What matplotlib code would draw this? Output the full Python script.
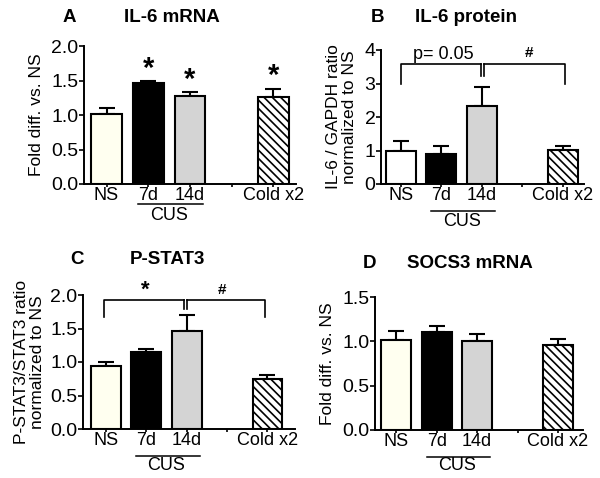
import matplotlib
matplotlib.use("Agg")
import matplotlib.pyplot as plt
from matplotlib.transforms import blended_transform_factory, offset_copy

plt.rcParams['font.family'] = ['Liberation Sans', 'DejaVu Sans']
plt.rcParams['hatch.linewidth'] = 1.2

# ---------------- data ----------------
groups = ['NS', '7d', '14d', '', 'Cold x2']
bar_pos = [0, 1, 2, 4]

il6_mrna = [1.01, 1.46, 1.28, 1.26]
il6_mrna_err = [0.09, 0.03, 0.05, 0.12]
il6_mrna_stars = [None, '*', '*', '*']

il6_prot = [1.0, 0.9, 2.34, 1.02]
il6_prot_err = [0.29, 0.23, 0.56, 0.10]

pstat3 = [0.94, 1.15, 1.46, 0.74]
pstat3_err = [0.06, 0.04, 0.24, 0.07]

socs3 = [1.02, 1.10, 1.00, 0.96]
socs3_err = [0.10, 0.07, 0.08, 0.07]

W, H = 600, 478
fig = plt.figure(figsize=(6, 4.78), dpi=100)


def px_rect(left, right, top, bottom):
    return [left / W, 1 - bottom / H, (right - left) / W, (bottom - top) / H]


def draw_panel(rect, vals, errs, ymax, yticks, ylabel, xlim, ns_color,
               cus_line, cus_text, labelpad):
    ax = fig.add_axes(rect)
    colors = [ns_color, 'black', '#d4d4d4', 'white']
    hatches = ['', '', '', '\\\\\\\\']
    for p, v, c, h in zip(bar_pos, vals, colors, hatches):
        ax.bar(p, v, width=0.74, color=c, edgecolor='black', linewidth=1.5,
               hatch=h, zorder=2)
    ax.errorbar(bar_pos, vals, yerr=[[0] * len(errs), errs], fmt='none',
                ecolor='black', elinewidth=1.5, capsize=5.5, capthick=1.5,
                zorder=1)
    ax.set_ylim(0, ymax)
    ax.set_xlim(*xlim)
    ax.set_yticks(yticks)
    ax.set_xticks(range(5))
    ax.set_xticklabels(groups)
    for s in ['top', 'right']:
        ax.spines[s].set_visible(False)
    for s in ['left', 'bottom']:
        ax.spines[s].set_linewidth(1.4)
    ax.tick_params(axis='x', labelsize=13, width=1.2, length=2.2, pad=0)
    ax.tick_params(axis='y', labelsize=14, width=1.2, length=3.5, pad=0.5)
    ax.set_ylabel(ylabel, fontsize=12.5, labelpad=labelpad, linespacing=1.1)
    # CUS grouping line under 7d / 14d
    trans = blended_transform_factory(ax.transData, ax.transAxes)
    t_line = offset_copy(trans, fig=fig, x=0, y=-cus_line, units='dots')
    t_text = offset_copy(trans, fig=fig, x=0, y=-cus_text, units='dots')
    ax.plot([0.75, 2.32], [0, 0], color='black', lw=1.1, transform=t_line,
            clip_on=False)
    ax.text(1.5, 0, 'CUS', transform=t_text, ha='center', va='center',
            fontsize=13)
    return ax


def bracket(ax, x0, xm, x1, ytop, yleg, ymid, lw=1.2):
    ax.plot([x0, x0, xm - 0.04], [yleg, ytop, ytop], color='black', lw=lw,
            clip_on=False)
    ax.plot([xm + 0.04, x1, x1], [ytop, ytop, yleg], color='black', lw=lw,
            clip_on=False)
    ax.plot([xm - 0.04, xm - 0.04], [ytop, ymid], color='black', lw=lw,
            clip_on=False)
    ax.plot([xm + 0.04, xm + 0.04], [ytop, ymid], color='black', lw=lw,
            clip_on=False)


# A
axA = draw_panel(px_rect(84, 295.5, 46, 184), il6_mrna, il6_mrna_err, 2.0,
                 [0.0, 0.5, 1.0, 1.5, 2.0], 'Fold diff. vs. NS', (-0.54, 4.53),
                 '#fffff0', 20, 31, 5)
axA.yaxis.set_major_formatter(plt.FormatStrFormatter('%.1f'))
for p, v, e, s in zip(bar_pos, il6_mrna, il6_mrna_err, il6_mrna_stars):
    if s:
        axA.text(p, v + e - 0.02, s, ha='center', va='bottom', fontsize=21,
                 fontweight='bold')

# B
axB = draw_panel(px_rect(381, 584, 50, 184), il6_prot, il6_prot_err, 4,
                 [0, 1, 2, 3, 4], 'IL-6 / GAPDH ratio\nnormalized to NS',
                 (-0.49, 4.52), 'white', 27, 37, 5)
bracket(axB, 0, 2.02, 4.05, 3.57, 3.0, 3.22)
axB.text(1.04, 3.88, 'p= 0.05', ha='center', va='center', fontsize=13)
axB.text(3.16, 3.9, '#', ha='center', va='center', fontsize=11,
         fontweight='bold')

# C
axC = draw_panel(px_rect(83, 295, 295, 429), pstat3, pstat3_err, 2.0,
                 [0.0, 0.5, 1.0, 1.5, 2.0],
                 'P-STAT3/STAT3 ratio\nnormalized to NS', (-0.56, 4.68),
                 '#fffff0', 27, 36, 4)
axC.yaxis.set_major_formatter(plt.FormatStrFormatter('%.1f'))
bracket(axC, -0.05, 1.98, 3.95, 1.93, 1.67, 1.79)
axC.text(0.97, 2.07, '*', ha='center', va='center', fontsize=16,
         fontweight='bold')
axC.text(2.87, 2.07, '#', ha='center', va='center', fontsize=11,
         fontweight='bold')

# D
axD = draw_panel(px_rect(375, 583, 297, 430), socs3, socs3_err, 1.5,
                 [0.0, 0.5, 1.0, 1.5], 'Fold diff. vs. NS', (-0.53, 4.62),
                 '#fffff0', 27, 36, 5)
axD.yaxis.set_major_formatter(plt.FormatStrFormatter('%.1f'))

# panel letters and titles
for letter, lx, title, tx, ty in [('A', 69, 'IL-6 mRNA', 172, 17),
                                  ('B', 377, 'IL-6 protein', 466, 17),
                                  ('C', 77, 'P-STAT3', 167, 260),
                                  ('D', 370, 'SOCS3 mRNA', 470, 263)]:
    fig.text(lx / W, 1 - ty / H, letter, ha='center', va='center',
             fontsize=13.5, fontweight='bold')
    fig.text(tx / W, 1 - ty / H, title, ha='center', va='center',
             fontsize=13.5, fontweight='bold')

fig.savefig('out.png', dpi=100)
